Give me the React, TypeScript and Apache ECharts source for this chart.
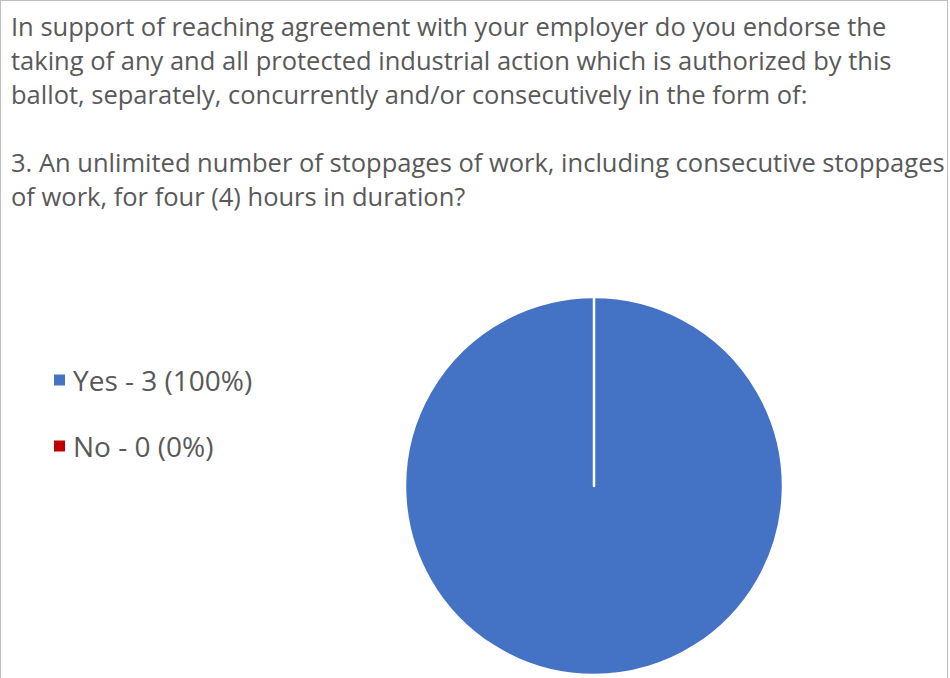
import React, { useEffect, useRef } from "react";
import * as echarts from "echarts";

const titleLines = [
  "In support of reaching agreement with your employer do you endorse the",
  "taking of any and all protected industrial action which is authorized by this",
  "ballot, separately, concurrently and/or consecutively in the form of:",
  "",
  "3. An unlimited number of stoppages of work, including consecutive stoppages",
  "of work, for four (4) hours in duration?",
];
const categories = ["Yes", "No"];
const values = [3, 0];
const colors = ["#4472C4", "#C00000"];

export default function App() {
  const ref = useRef<HTMLDivElement>(null);
  useEffect(() => {
    if (!ref.current) return;
    const chart = echarts.init(ref.current, null, { renderer: "svg" });
    const total = values.reduce((a, b) => a + b, 0);
    const labelOf = (name: string) => {
      const i = categories.indexOf(name);
      const v = values[i];
      const pct = total ? Math.round((v / total) * 100) : 0;
      return `${name} - ${v} (${pct}%)`;
    };
    chart.setOption({
      animation: false,
      backgroundColor: "#ffffff",
      title: {
        text: titleLines.join("\n"),
        left: 5,
        top: 3,
        textStyle: {
          fontFamily: "Open Sans",
          fontSize: 25.5,
          fontWeight: "normal",
          color: "#595959",
          lineHeight: 34,
        },
      },
      legend: {
        orient: "vertical",
        left: 48,
        top: 360,
        icon: "rect",
        itemWidth: 11,
        itemHeight: 11,
        itemGap: 38,
        data: categories.map((c, i) => ({
          name: c,
          itemStyle: { color: colors[i], borderWidth: 0 },
        })),
        formatter: labelOf,
        textStyle: {
          fontFamily: "Open Sans",
          fontSize: 28,
          color: "#595959",
          padding: [0, 0, 0, 3],
        },
      },
      series: [
        {
          type: "pie",
          center: [593, 485],
          radius: 189,
          startAngle: 90,
          clockwise: true,
          label: { show: false },
          labelLine: { show: false },
          emphasis: { disabled: true },
          itemStyle: { borderColor: "#ffffff", borderWidth: 2.5 },
          data: categories.map((c, i) => ({
            name: c,
            value: values[i],
            itemStyle: { color: colors[i] },
          })),
        },
      ],
    });
    return () => chart.dispose();
  }, []);
  return (
    <div
      style={{
        position: "fixed",
        left: 0,
        top: 0,
        width: 948,
        height: 700,
        boxSizing: "border-box",
        borderLeft: "1.5px solid #bfbfbf",
        borderTop: "1.5px solid #bfbfbf",
        borderRight: "1.5px solid #bfbfbf",
        background: "#fff",
      }}
    >
      <div ref={ref} style={{ width: 945, height: 698 }} />
    </div>
  );
}
